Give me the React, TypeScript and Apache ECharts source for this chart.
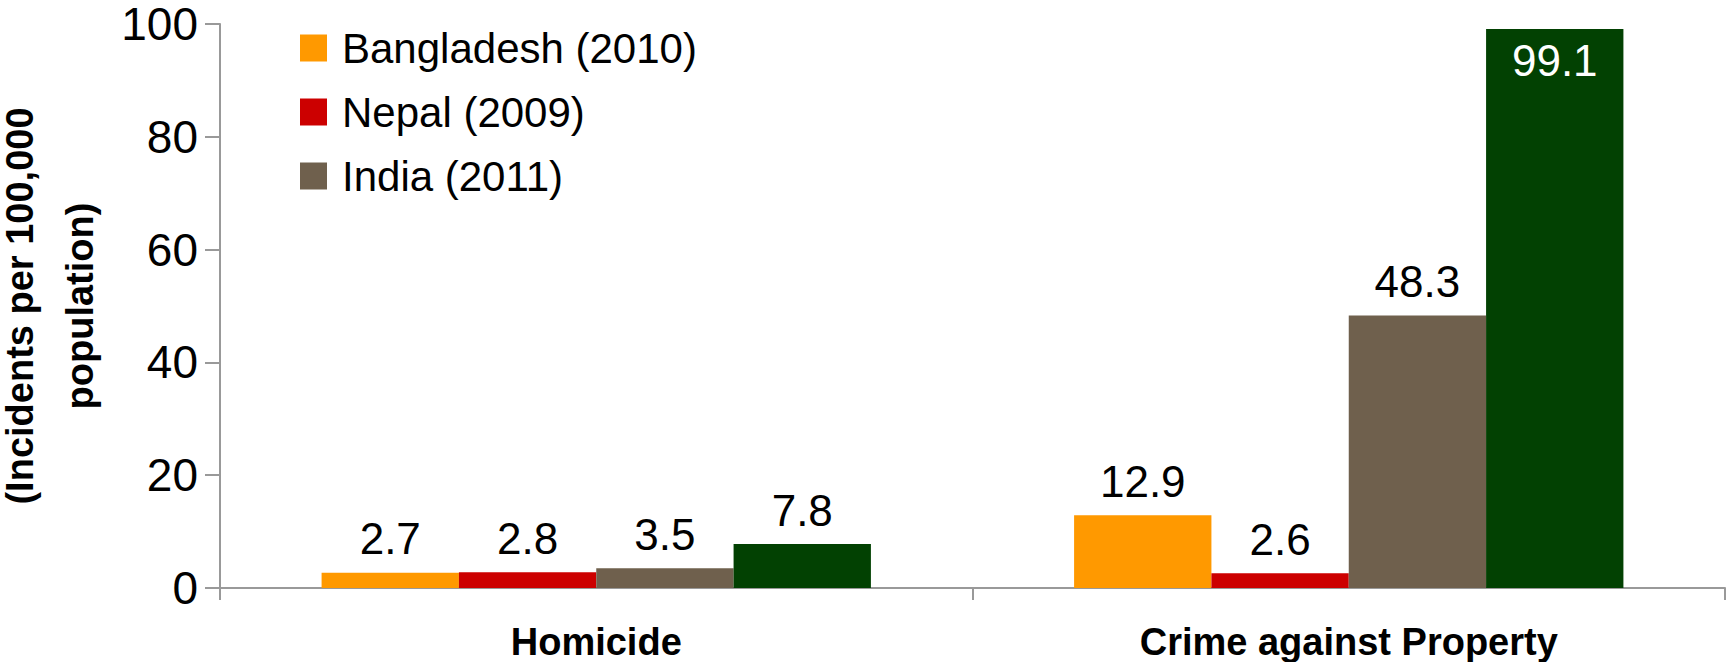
import React, { useEffect, useRef } from "react";
import * as echarts from "echarts";

const categories = ["Homicide", "Crime against Property"];
const seriesNames = ["Bangladesh (2010)", "Nepal (2009)", "India (2011)", "Other"];
const legendNames = ["Bangladesh (2010)", "Nepal (2009)", "India (2011)"];
const bangladesh = [2.7, 12.9];
const nepal = [2.8, 2.6];
const india = [3.5, 48.3];
const other = [7.8, 99.1];
const colors = ["#FF9900", "#CC0000", "#6F604D", "#024102"];
const yTicks = { min: 0, max: 100, interval: 20 };

const FONT = "'Liberation Sans', Arial, sans-serif";

export default function App() {
  const ref = useRef<HTMLDivElement>(null);
  useEffect(() => {
    if (!ref.current) return;
    const chart = echarts.init(ref.current, null, { renderer: "svg" });
    const values = [bangladesh, nepal, india, other];
    const series = values.map((data, i) => ({
      name: seriesNames[i],
      type: "bar",
      data,
      barGap: "0%",
      barCategoryGap: "27%",
      itemStyle: { color: colors[i] },
      label: {
        show: true,
        position: "top",
        distance: 12,
        color: "#000",
        fontSize: 44,
        fontFamily: FONT,
      },
    }));
    // the tallest green bar carries its label inside in white
    (series[3] as any).data = other.map((v) =>
      v > 90
        ? {
            value: v,
            label: { position: "insideTop", distance: 9, color: "#fff" },
          }
        : v
    );
    chart.setOption({
      animation: false,
      textStyle: { fontFamily: FONT },
      legend: {
        data: legendNames,
        orient: "vertical",
        left: 300,
        top: 27,
        padding: 0,
        itemWidth: 27,
        itemHeight: 27,
        itemGap: 22,
        icon: "rect",
        textStyle: {
          fontSize: 42,
          color: "#000",
          fontFamily: FONT,
          padding: [0, 0, 0, 10],
        },
      },
      grid: {
        left: 220,
        right: 6,
        top: 24,
        bottom: 74,
        containLabel: false,
        outerBoundsMode: "none",
      },
      xAxis: {
        type: "category",
        data: categories,
        axisLine: { lineStyle: { color: "#999", width: 2 } },
        axisTick: { show: true, length: 12, lineStyle: { color: "#999", width: 2 } },
        axisLabel: {
          fontSize: 38,
          fontWeight: "bold",
          color: "#000",
          margin: 34,
          lineHeight: 40,
          fontFamily: FONT,
        },
      },
      yAxis: {
        type: "value",
        min: yTicks.min,
        max: yTicks.max,
        interval: yTicks.interval,
        name: "(Incidents per 100,000\npopulation)",
        nameLocation: "middle",
        nameRotate: 90,
        nameGap: 87,
        nameTextStyle: {
          fontSize: 38,
          fontWeight: "bold",
          color: "#000",
          lineHeight: 60,
          fontFamily: FONT,
        },
        axisLine: { show: true, lineStyle: { color: "#999", width: 2 } },
        axisTick: { show: true, length: 15, lineStyle: { color: "#999", width: 2 } },
        splitLine: { show: false },
        axisLabel: {
          fontSize: 46,
          lineHeight: 44,
          color: "#000",
          margin: 22,
          fontFamily: FONT,
        },
      },
      series,
    });
    return () => chart.dispose();
  }, []);
  return (
    <div
      ref={ref}
      style={{ position: "absolute", left: 0, top: 0, width: 1731, height: 662 }}
    />
  );
}
